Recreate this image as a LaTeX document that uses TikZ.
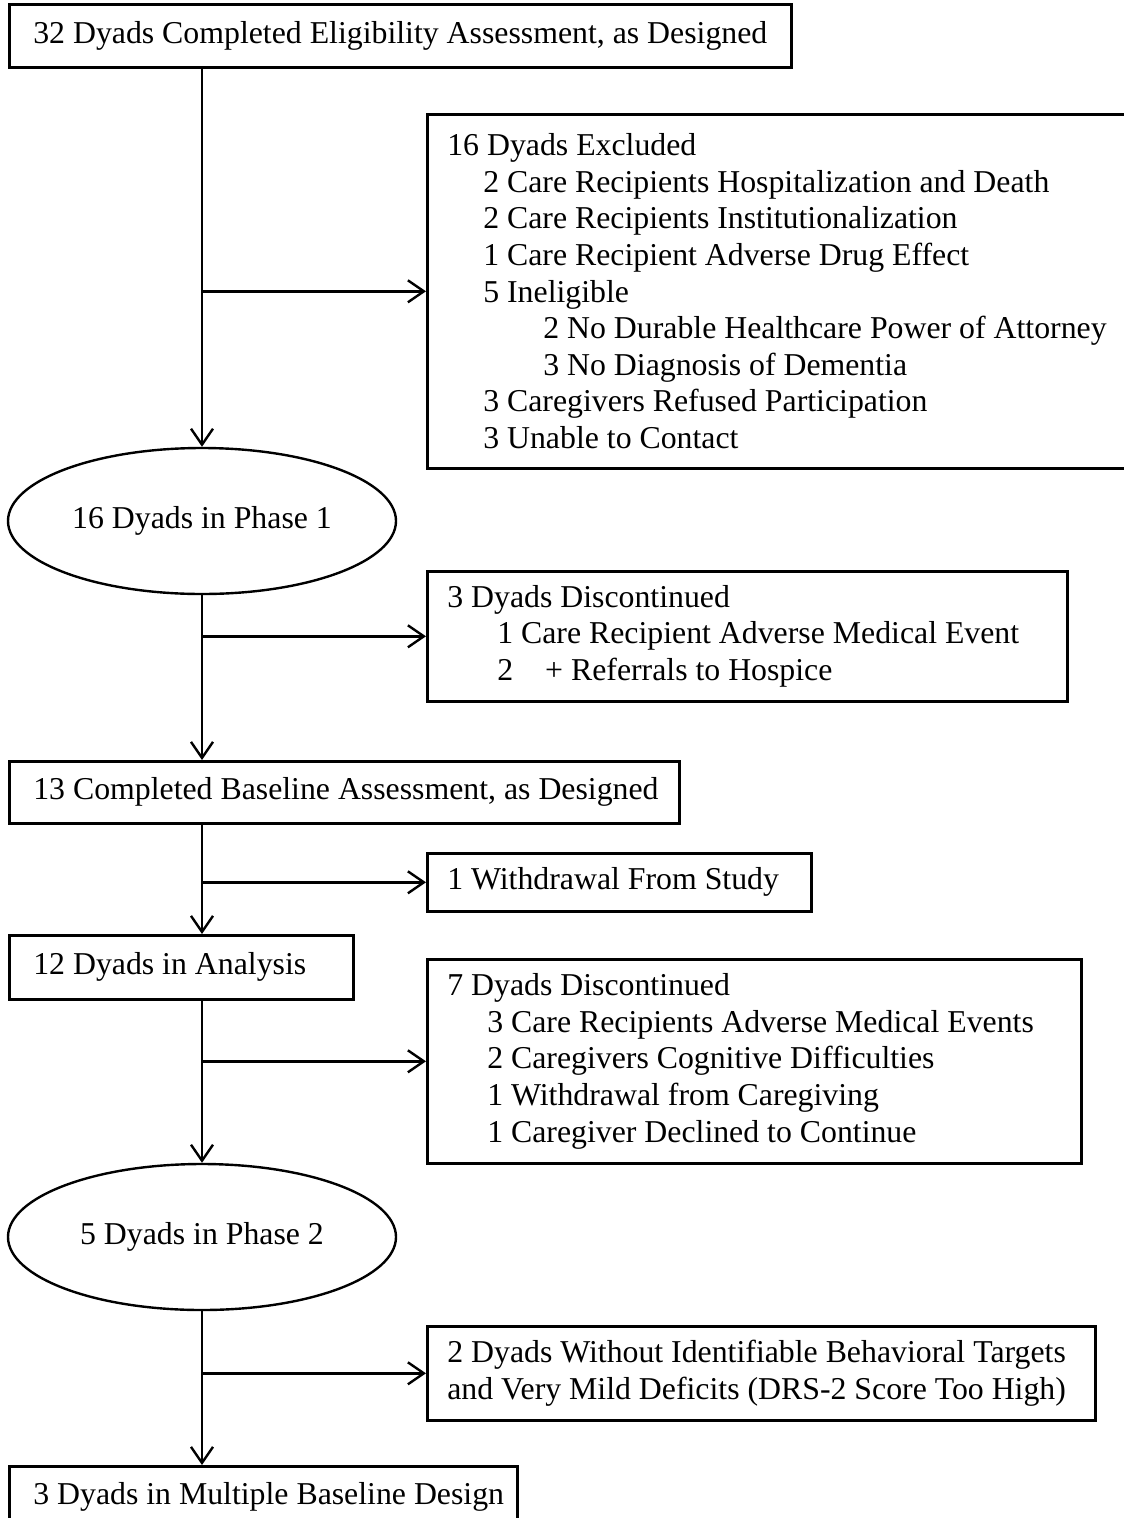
\documentclass[tikz,border=0pt]{standalone}
\usepackage{fontspec}
\setmainfont{Liberation Serif}
\usetikzlibrary{shapes.geometric,arrows.meta}
\newcommand{\lvlone}{\hspace*{36pt}}
\newcommand{\lvltwo}{\hspace*{96pt}}
\tikzset{
	flowbox/.style={draw, line width=2.6pt, rectangle, inner sep=0pt},
	mainbox/.style={flowbox, anchor=north west, align=flush left, inner xsep=24pt},
	sidebox/.style={flowbox, anchor=north west, align=flush left, inner xsep=20pt},
	phase/.style={draw, line width=2.4pt, ellipse, minimum width=388pt, minimum height=146pt, inner sep=0pt},
	flow/.style={line width=2.4pt, -{Straight Barb[length=16pt,width=22pt]}},
}
\begin{document}
\begin{tikzpicture}[x=1pt, y=-1pt, every node/.style={font=\fontsize{31.8pt}{36.6pt}\selectfont}]
	\useasboundingbox (0,0) rectangle (1124,1518);
	\node[mainbox, text width=734pt, minimum height=63pt] (elig) at (8,3) {\mbox{32 Dyads Completed Eligibility Assessment, as Designed}};
	\node[sidebox, text width=684pt, minimum height=354pt] (excl) at (426,113) {16 Dyads Excluded\\
		\lvlone\mbox{2 Care Recipients Hospitalization and Death}\\
		\lvlone\mbox{2 Care Recipients Institutionalization}\\
		\lvlone\mbox{1 Care Recipient Adverse Drug Effect}\\
		\lvlone\mbox{5 Ineligible}\\
		\lvltwo\mbox{2 No Durable Healthcare Power of Attorney}\\
		\lvltwo\mbox{3 No Diagnosis of Dementia}\\
		\lvlone\mbox{3 Caregivers Refused Participation}\\
		\lvlone\mbox{3 Unable to Contact}};
	\node[phase] (ph1) at (202,521) {16 Dyads in Phase 1};
	\node[sidebox, text width=600pt, minimum height=130pt] (disc) at (426,570) {3 Dyads Discontinued\\
		\hspace*{50pt}\mbox{1 Care Recipient Adverse Medical Event}\\
		\hspace*{50pt}\mbox{2\hspace*{32pt}+ Referrals to Hospice}};
	\node[mainbox, text width=622pt, minimum height=62pt] (base) at (8,760) {\mbox{13 Completed Baseline Assessment, as Designed}};
	\node[sidebox, text width=344pt, minimum height=58pt] (wdraw) at (426,852) {\mbox{1 Withdrawal From Study}};
	\node[mainbox, text width=296pt, minimum height=64pt] (anal) at (8,934) {\mbox{12 Dyads in Analysis}};
	\node[sidebox, text width=614pt, minimum height=204pt] (disc2) at (426,958) {7 Dyads Discontinued\\
		\hspace*{40pt}\mbox{3 Care Recipients Adverse Medical Events}\\
		\hspace*{40pt}\mbox{2 Caregivers Cognitive Difficulties}\\
		\hspace*{40pt}\mbox{1 Withdrawal from Caregiving}\\
		\hspace*{40pt}\mbox{1 Caregiver Declined to Continue}};
	\node[phase] (ph2) at (202,1237) {5 Dyads in Phase 2};
	\node[sidebox, text width=628pt, minimum height=94pt] (notgt) at (426,1325) {\mbox{2 Dyads Without Identifiable Behavioral Targets}\\
		\mbox{and Very Mild Deficits (DRS-2 Score Too High)}};
	\node[mainbox, text width=460pt, minimum height=62pt] (mbd) at (8,1465) {\mbox{3 Dyads in Multiple Baseline Design}};
	\coordinate (spine) at (202,0);
	\draw[flow] (spine |- elig.south) -- (ph1.north);
	\draw[flow] (spine |- excl.west) -- (excl.west);
	\draw[flow] (ph1.south) -- (spine |- base.north);
	\draw[flow] (spine |- disc.west) -- (disc.west);
	\draw[flow] (spine |- base.south) -- (spine |- anal.north);
	\draw[flow] (spine |- wdraw.west) -- (wdraw.west);
	\draw[flow] (spine |- anal.south) -- (ph2.north);
	\draw[flow] (spine |- disc2.west) -- (disc2.west);
	\draw[flow] (ph2.south) -- (spine |- mbd.north);
	\draw[flow] (spine |- notgt.west) -- (notgt.west);
\end{tikzpicture}
\end{document}
